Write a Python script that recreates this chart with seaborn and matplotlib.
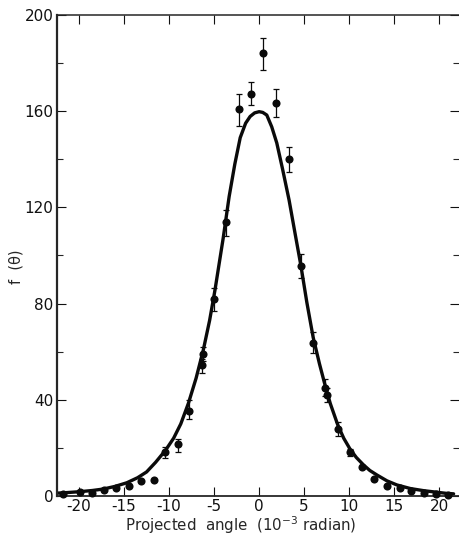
import numpy as np
import pandas as pd
import matplotlib.pyplot as plt
import seaborn as sns

# values
angle = [-21.8, -19.9, -18.6, -17.25, -15.85, -14.4, -13.1, -11.7, -10.4, -8.96, -7.75, -6.4, -6.2,
         -5.0, -3.7, -2.22, -0.89, 0.48, 1.85, 3.3, 4.63, 6.0, 7.33, 7.5, 8.74, 10.1, 11.4, 12.8,
         14.2, 15.6, 16.9, 18.3, 19.7, 21.0]
f_theta = [1.0, 1.5, 1.25, 2.4, 3.2, 4.3, 6.2, 6.6, 18.4, 21.5, 35.5, 54.6, 59,
           82, 114, 161, 167, 184, 163.5, 140, 95.8, 63.7, 45, 42, 28, 18.2, 12.2, 7,
           4.3, 3.3, 2.2, 1.1, 1.0, 0.4]
err_low = [0, 0, 0, 0, 0, 0, 0, 0, 2.7, 3.1, 3.5, 3.6, 3,
           5, 6, 7.2, 4.6, 7, 5.9, 5.1, 5.2, 4.3, 3.5, 3, 3, 1.5, 0, 0,
           0, 0, 0, 0, 0, 0]
err_high = [0, 0, 0, 0, 0, 0, 0, 0, 2.1, 2.1, 4.5, 2.4, 3,
            4.5, 5, 6, 5, 6.6, 5.9, 5, 4.8, 4.6, 3.5, 3, 2.9, 1.5, 0, 0,
            0, 0, 0, 0, 0, 0]

curve_x = [-22.4, -21.8, -19.9, -18.5, -17.3, -16.0, -14.7, -13.5, -12.5, -11.5, -10.4, -9.5, -8.7, -7.85, -7.0,
           -6.2, -5.5, -4.9, -4.0, -3.33, -2.7, -2.1, -1.5, -1.0, -0.5, 0.0, 0.4, 0.85, 1.4, 1.96, 2.6,
           3.33, 4.0, 4.63, 5.3, 6.0, 6.7, 7.33, 7.9, 8.74, 9.4, 10.1, 10.8, 11.6, 12.3, 13.1, 14.2,
           15.3, 16.8, 18.3, 20.8, 21.6]
curve_y = [1.2, 1.3, 1.8, 2.3, 2.9, 4.0, 5.5, 7.6, 10, 14, 19, 24, 30, 38.6, 49,
           60.7, 73, 85.7, 107, 124.5, 138, 149, 155, 157.8, 159.3, 159.8, 159.5, 158.4, 153.5, 146.8, 136,
           123, 109, 96, 80.5, 66, 55, 46, 38.5, 29.5, 24, 19.5, 16, 12.9, 10.6, 8.7, 6.3,
           4.6, 3.1, 2.2, 1.1, 0.9]

x_ticks = [-20, -15, -10, -5, 0, 5, 10, 15, 20]
x_labels = ['-20', '-15', '-10', '-5', '0', '5', '10', '15', '20']
y_ticks = [0, 40, 80, 120, 160, 200]
y_minor = [20, 60, 100, 140, 180]

points = pd.DataFrame({'angle': angle, 'f': f_theta})
fit = pd.DataFrame({'angle': curve_x, 'f': curve_y})

sns.set_style('ticks')
plt.rcParams['font.family'] = ['DejaVu Sans']
plt.rcParams['font.size'] = 11

fig = plt.figure(figsize=(4.59, 5.35), dpi=100)
ax = fig.add_axes([57 / 459, 1 - 496 / 535, (459 - 57) / 459, (496 - 15) / 535])

sns.lineplot(data=fit, x='angle', y='f', color='#0a0a0a', linewidth=2.4, ax=ax, errorbar=None)
sns.scatterplot(data=points, x='angle', y='f', color='#0a0a0a', s=34, linewidth=0, ax=ax, zorder=3, clip_on=False)
ax.errorbar(angle, f_theta, yerr=[err_low, err_high], fmt='none', ecolor='#0a0a0a', elinewidth=0.9,
            capsize=2, capthick=0.9, zorder=2)

ax.set_xlim(-22.45, 22.2)
ax.set_ylim(0, 200)
ax.set_xticks(x_ticks)
ax.set_xticklabels(x_labels)
ax.set_yticks(y_ticks)
ax.set_yticks(y_minor, minor=True)
ax.tick_params(axis='both', which='major', direction='in', length=6.5, width=0.8, top=True, right=True,
               labelsize=11, pad=2.5, colors='#111111')
ax.tick_params(axis='y', which='minor', direction='in', length=4, width=0.8, right=True)
ax.spines['right'].set_visible(False)
ax.spines['left'].set_linewidth(1.6)
ax.spines['top'].set_linewidth(1.1)
ax.spines['bottom'].set_linewidth(1.3)

ax.set_xlabel('Projected  angle  (10$^{-3}$ radian)', fontsize=10.8)
ax.xaxis.set_label_coords((241 - 57) / 402, -(525 - 496) / 481)
ax.xaxis.label.set_verticalalignment('center')
ax.set_ylabel('f  (θ)', fontsize=10.5)
ax.yaxis.set_label_coords(-(57 - 16) / 402, (496 - 267) / 481)
ax.yaxis.label.set_verticalalignment('center')

plt.savefig('out.png', dpi=100)
